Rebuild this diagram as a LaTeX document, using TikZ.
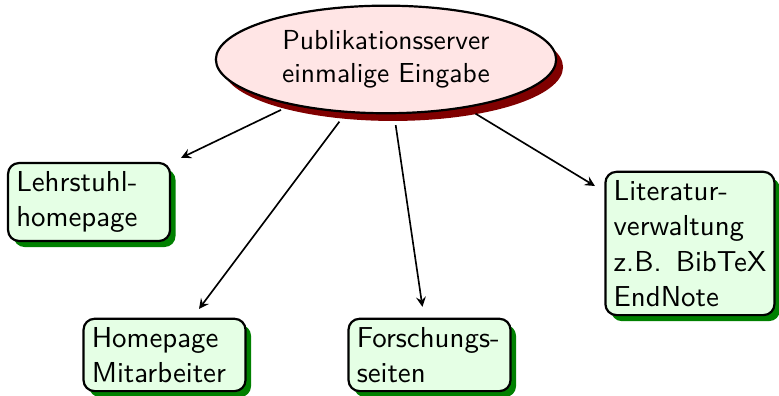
\documentclass[tikz,border=0pt]{standalone}
\usepackage{tikz}
\usetikzlibrary{arrows.meta, shapes.geometric, shadows}
\renewcommand{\familydefault}{\sfdefault}
\tikzstyle{pServer} = [ellipse, thick, draw=black, fill=red!10, align=center, minimum width=4.35cm, minimum height=1.34cm, drop shadow={shadow xshift=2.5pt, shadow yshift=-2.8pt, fill=red!50!black, opacity=1}]
\tikzstyle{pTarget} = [rectangle, rounded corners, thick, draw=black, fill=green!10, inner sep=3pt, text width=1.86cm, align=left, font=\fontsize{10.5}{12.9}\selectfont, drop shadow={shadow xshift=2pt, shadow yshift=-2.2pt, fill=green!50!black, opacity=1}]
\tikzstyle{pArrow} = [semithick,->,>=stealth, shorten <=4pt, shorten >=4pt]

\begin{document}
\begin{tikzpicture}
    \useasboundingbox (0,0) rectangle (9.957,-5.061);
    \node (server) [pServer] at (4.934,-0.76) {Publikationsserver\\einmalige Eingabe};
    \node (chair) [pTarget] at (1.138,-2.582) {Lehrstuhl-\\homepage};
    \node (staff) [pTarget] at (2.103,-4.537) {Homepage\\Mitarbeiter};
    \node (research) [pTarget] at (5.49,-4.537) {Forschungs-\\seiten};
    \node (refman) [pTarget, text width=1.95cm] at (8.819,-3.112) {Literatur-\\verwaltung\\z.B.\hfill BibTeX\\EndNote};

    \draw [pArrow] (server) -- (chair);
    \draw [pArrow] (server) -- (staff);
    \draw [pArrow] (server) -- (research);
    \draw [pArrow] (server) -- (refman);
\end{tikzpicture}
\end{document}
